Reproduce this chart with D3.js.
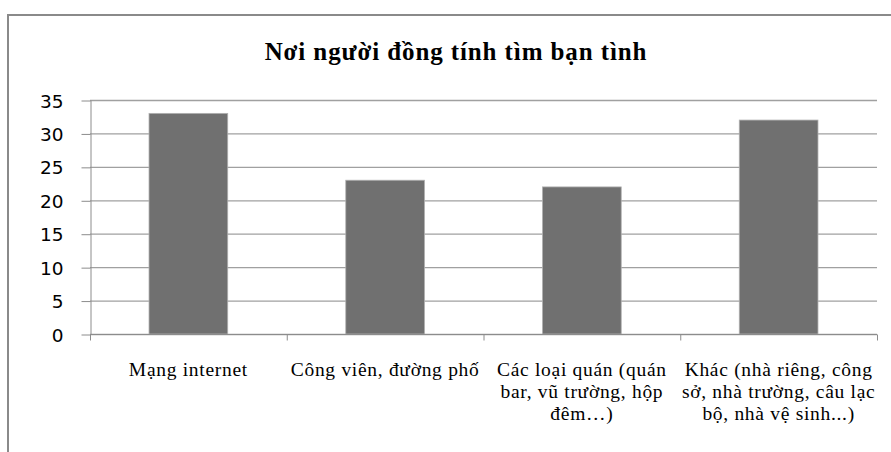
<!DOCTYPE html>
<html>
<head>
<meta charset="utf-8">
<script src="https://cdn.jsdelivr.net/npm/d3@7"></script>
<style>
  body { margin: 0; background: #fff; }
  svg { display: block; }
</style>
</head>
<body>
<svg id="chart" width="891" height="452"></svg>
<script>
const title = "Nơi người đồng tính tìm bạn tình";
// line breaks in the category names mark where the axis labels wrap
const categories = [
  "Mạng internet",
  "Công viên, đường phố",
  "Các loại quán (quán\nbar, vũ trường, hộp\nđêm…)",
  "Khác (nhà riêng, công\nsở, nhà trường, câu lạc\nbộ, nhà vệ sinh...)"
];
const values = [33, 23, 22, 32];
const yTicks = [0, 5, 10, 15, 20, 25, 30, 35];

const svg = d3.select("#chart");
const plotLeft = 90, plotRight = 877, plotTop = 100, plotBottom = 334;

// chart frame
svg.append("path")
  .attr("d", "M8,452 V15 H891")
  .attr("fill", "none")
  .attr("stroke", "#8a8a8a")
  .attr("stroke-width", 2);

svg.append("text")
  .attr("x", 456).attr("y", 60)
  .attr("text-anchor", "middle")
  .attr("font-family", "'Liberation Serif', serif")
  .attr("font-weight", "bold")
  .attr("font-size", 25)
  .attr("letter-spacing", 0.9)
  .attr("fill", "#000")
  .text(title);

const x = d3.scaleBand().domain(categories).range([plotLeft, plotRight]).paddingInner(0).paddingOuter(0);
const y = d3.scaleLinear().domain([0, 35]).range([plotBottom, plotTop]);

// horizontal gridlines
svg.append("g").selectAll("line").data(yTicks).join("line")
  .attr("x1", plotLeft).attr("x2", plotRight)
  .attr("y1", d => y(d) + 0.5).attr("y2", d => y(d) + 0.5)
  .attr("stroke", "#a0a0a0").attr("stroke-width", 1.3);

// y axis
const yAxis = svg.append("g").attr("transform", `translate(${plotLeft + 0.5},0)`)
  .call(d3.axisLeft(y).tickValues(yTicks).tickSize(9).tickPadding(18).tickSizeOuter(0));
yAxis.select(".domain").attr("stroke", "#8c8c8c");
yAxis.selectAll(".tick line").attr("stroke", "#8c8c8c").attr("transform", "translate(0,0.5)");
yAxis.selectAll(".tick text")
  .attr("font-family", "'DejaVu Sans', sans-serif")
  .attr("font-size", 18.5)
  .attr("fill", "#000")
  .attr("dy", "0.38em");

// bars
const barW = x.bandwidth() / 2.5;
svg.append("g").selectAll("rect").data(values).join("rect")
  .attr("x", (d, i) => x(categories[i]) + (x.bandwidth() - barW) / 2)
  .attr("y", d => y(d))
  .attr("width", barW)
  .attr("height", d => y(0) - y(d))
  .attr("fill", "#707070")
  .attr("stroke", "#b0b0b0")
  .attr("stroke-width", 0.8);

// x axis with category ticks at band edges
const xAxisG = svg.append("g").attr("transform", `translate(0,${plotBottom + 0.5})`);
xAxisG.append("line").attr("x1", plotLeft).attr("x2", plotRight)
  .attr("stroke", "#8c8c8c");
const edges = categories.map(c => x(c)).concat([plotRight]);
xAxisG.selectAll("line.tk").data(edges).join("line")
  .attr("class", "tk")
  .attr("x1", d => d + 0.5).attr("x2", d => d + 0.5)
  .attr("y1", 0).attr("y2", 6)
  .attr("stroke", "#8c8c8c");

// category labels, one tspan per line
categories.forEach(c => {
  const cx = x(c) + x.bandwidth() / 2;
  const t = svg.append("text")
    .attr("x", cx)
    .attr("y", 376)
    .attr("text-anchor", "middle")
    .attr("font-family", "'Liberation Serif', serif")
    .attr("font-size", 19.5)
    .attr("letter-spacing", 0.7)
    .attr("fill", "#000");
  c.split("\n").forEach((ln, i) => t.append("tspan")
    .attr("x", cx)
    .attr("dy", i === 0 ? 0 : 22)
    .text(ln));
});
</script>
</body>
</html>
